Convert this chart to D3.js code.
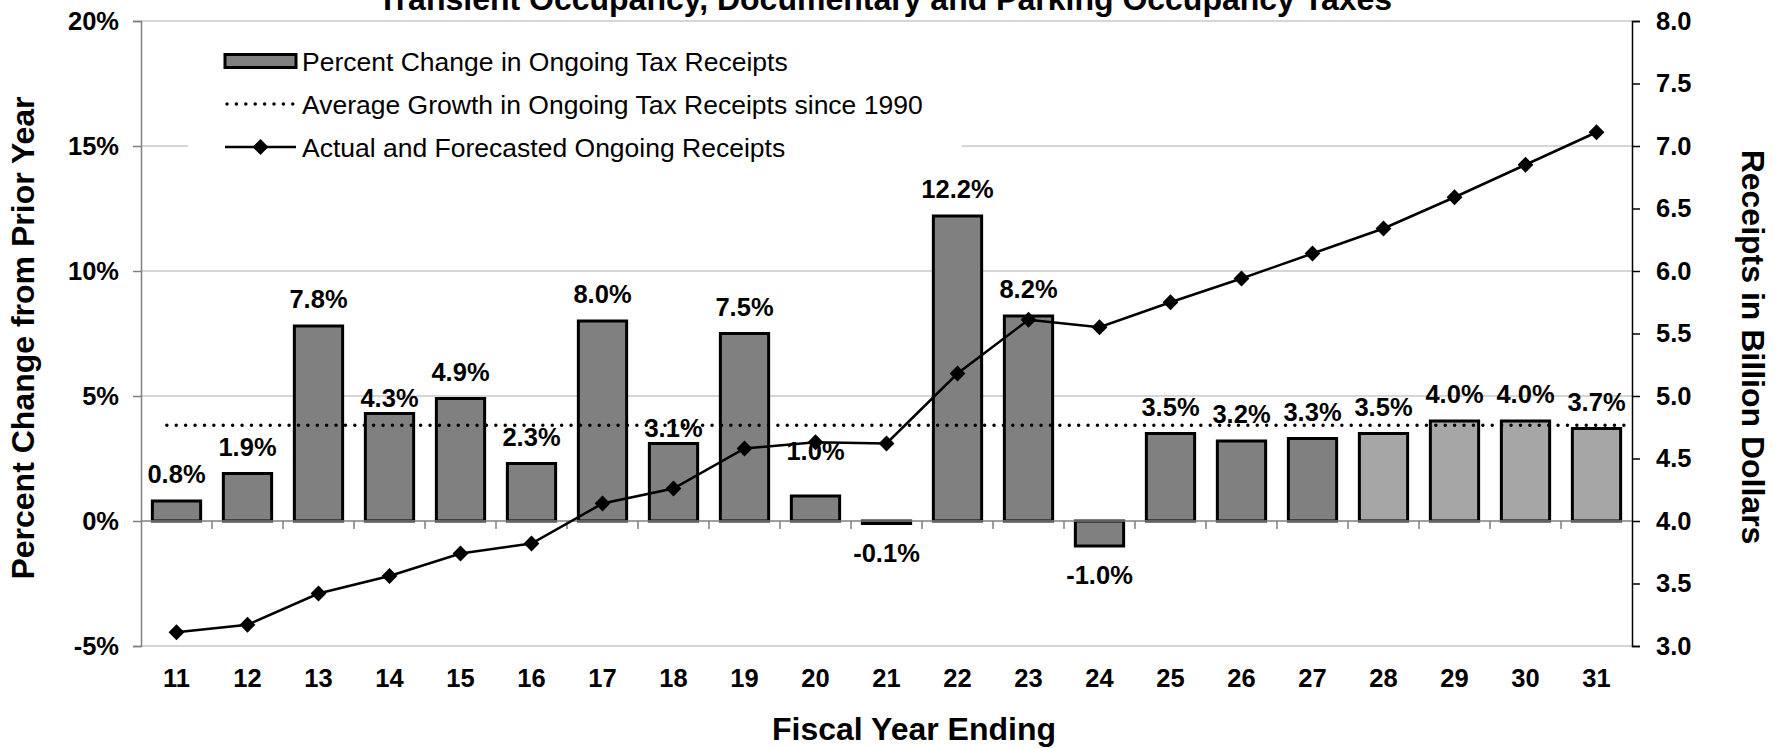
<!DOCTYPE html>
<html>
<head>
<meta charset="utf-8">
<script src="https://cdn.jsdelivr.net/npm/d3@7"></script>
<style>
    body { margin: 0; background: #fff; }
    svg { font-family: "Liberation Sans", Arial, sans-serif; }
</style>
</head>
<body>
<svg id="chart" width="1785" height="748"></svg>
<script>
var years = ["11", "12", "13", "14", "15", "16", "17", "18", "19", "20", "21",
    "22", "23", "24", "25", "26", "27", "28", "29", "30", "31"];
var pctChange = [0.8, 1.9, 7.8, 4.3, 4.9, 2.3, 8.0, 3.1, 7.5, 1.0, -0.1,
    12.2, 8.2, -1.0, 3.5, 3.2, 3.3, 3.5, 4.0, 4.0, 3.7];
var forecastYears = ["28", "29", "30", "31"];
var receipts = [3.11, 3.17, 3.42, 3.56, 3.74, 3.82, 4.14, 4.26, 4.58, 4.63, 4.62,
    5.18, 5.61, 5.55, 5.75, 5.94, 6.14, 6.34, 6.59, 6.85, 7.11];
var avgGrowth = 3.83;
var leftTicks = [-5, 0, 5, 10, 15, 20];
var rightTicks = [3.0, 3.5, 4.0, 4.5, 5.0, 5.5, 6.0, 6.5, 7.0, 7.5, 8.0];
var legendLabels = ["Percent Change in Ongoing Tax Receipts",
    "Average Growth in Ongoing Tax Receipts since 1990",
    "Actual and Forecasted Ongoing Receipts"];

// a few data labels sit off their default spot in the original
var labelNudge = {"14": 11, "18": 11, "20": -18};

var svg = d3.select("#chart");

var plotLeft = 141, plotRight = 1632, plotTop = 21, plotBottom = 646;

var x = d3.scaleBand()
    .domain(years)
    .range([plotLeft, plotRight])
    .paddingInner(0.32)
    .paddingOuter(0.16);

var yPct = d3.scaleLinear().domain([-5, 20]).range([plotBottom, plotTop]);
var yRec = d3.scaleLinear().domain([3, 8]).range([plotBottom, plotTop]);

var locale = d3.formatLocale({decimal: ".", thousands: ",", grouping: [3], currency: ["$", ""], minus: "-"});
var fmt = locale.format(".1f");

// gridlines
svg.append("g")
    .selectAll("line")
    .data(leftTicks.filter(function (d) { return d != 0; }))
    .enter()
    .append("line")
    .attr("x1", plotLeft).attr("x2", plotRight)
    .attr("y1", function (d) { return yPct(d); })
    .attr("y2", function (d) { return yPct(d); })
    .attr("stroke", "#c8c8c8")
    .attr("stroke-width", 1.5);

// legend box (white, hides gridline behind it)
svg.append("rect")
    .attr("x", 188).attr("y", 36)
    .attr("width", 774).attr("height", 128)
    .attr("fill", "#fff");

// bars
svg.append("g")
    .selectAll("rect")
    .data(years)
    .enter()
    .append("rect")
    .attr("x", function (d) { return x(d); })
    .attr("width", x.bandwidth())
    .attr("y", function (d, i) { return yPct(Math.max(0, pctChange[i])); })
    .attr("height", function (d, i) { return Math.abs(yPct(pctChange[i]) - yPct(0)); })
    .attr("fill", function (d) { return forecastYears.includes(d) ? "#a6a6a6" : "#808080"; })
    .attr("stroke", "#000")
    .attr("stroke-width", 3);

// left axis
var yAxisL = d3.axisLeft(yPct)
    .tickValues(leftTicks)
    .tickSize(8)
    .tickPadding(14)
    .tickFormat(function (d) { return d + "%"; });

var gL = svg.append("g")
    .attr("transform", "translate(" + plotLeft + ",0)")
    .call(yAxisL);
gL.select(".domain").attr("stroke", "#808080").attr("stroke-width", 1.5);
gL.selectAll(".tick line").attr("stroke", "#808080").attr("stroke-width", 1.5);
gL.selectAll("text")
    .attr("font-size", 25.5).attr("font-weight", "bold").attr("fill", "#000")
    .attr("font-family", "Liberation Sans, Arial, sans-serif");

// right axis
var yAxisR = d3.axisRight(yRec)
    .tickValues(rightTicks)
    .tickSize(8)
    .tickPadding(16)
    .tickFormat(d3.format(".1f"));

var gR = svg.append("g")
    .attr("transform", "translate(" + plotRight + ",0)")
    .call(yAxisR);
gR.select(".domain").attr("stroke", "#000").attr("stroke-width", 1.5);
gR.selectAll(".tick line").attr("stroke", "#000").attr("stroke-width", 1.5);
gR.selectAll("text")
    .attr("font-size", 25.5).attr("font-weight", "bold").attr("fill", "#000")
    .attr("font-family", "Liberation Sans, Arial, sans-serif");

// category axis on the 0% line
var zeroY = yPct(0);
svg.append("line")
    .attr("x1", plotLeft).attr("x2", plotRight)
    .attr("y1", zeroY).attr("y2", zeroY)
    .attr("stroke", "#808080").attr("stroke-width", 1.5);

svg.append("g")
    .selectAll("line")
    .data(years.slice(1))
    .enter()
    .append("line")
    .attr("x1", function (d) { return x(d) - x.step() * x.paddingInner() / 2; })
    .attr("x2", function (d) { return x(d) - x.step() * x.paddingInner() / 2; })
    .attr("y1", zeroY).attr("y2", zeroY + 8)
    .attr("stroke", "#808080").attr("stroke-width", 1.5);

svg.append("g")
    .selectAll("text")
    .data(years)
    .enter()
    .append("text")
    .attr("x", function (d) { return x(d) + x.bandwidth() / 2; })
    .attr("y", 687)
    .attr("text-anchor", "middle")
    .attr("font-size", 25.5).attr("font-weight", "bold")
    .text(function (d) { return d; });

// average growth dotted line
svg.append("line")
    .attr("x1", x(years[0]) + x.bandwidth() * 0.3)
    .attr("x2", plotRight - 4)
    .attr("y1", yPct(avgGrowth)).attr("y2", yPct(avgGrowth))
    .attr("stroke", "#000")
    .attr("stroke-width", 3.5)
    .attr("stroke-linecap", "round")
    .attr("stroke-dasharray", "0,9.4");

// receipts line
var line = d3.line()
    .x(function (d, i) { return x(years[i]) + x.bandwidth() / 2; })
    .y(function (d) { return yRec(d); });

svg.append("path")
    .datum(receipts)
    .attr("d", line)
    .attr("fill", "none")
    .attr("stroke", "#000")
    .attr("stroke-width", 2.5);

var diamond = d3.symbol().type(d3.symbolSquare).size(125);

svg.append("g")
    .selectAll("path")
    .data(receipts)
    .enter()
    .append("path")
    .attr("d", diamond)
    .attr("transform", function (d, i) {
        return "translate(" + (x(years[i]) + x.bandwidth() / 2) + "," + yRec(d) + ") rotate(45)";
    })
    .attr("fill", "#000");

// data labels
svg.append("g")
    .selectAll("text")
    .data(pctChange)
    .enter()
    .append("text")
    .attr("x", function (d, i) { return x(years[i]) + x.bandwidth() / 2; })
    .attr("y", function (d, i) {
        var base = d >= 0 ? yPct(d) - 18 : yPct(d) + 38;
        return base + (labelNudge[years[i]] || 0);
    })
    .attr("text-anchor", "middle")
    .attr("font-size", 25.5).attr("font-weight", "bold")
    .text(function (d) { return fmt(d) + "%"; });

// legend
var legend = svg.append("g");
var lx = 225, lw = 71, textX = 302, rowY = [61, 104, 147];

legend.append("rect")
    .attr("x", lx).attr("y", rowY[0] - 6.5)
    .attr("width", lw).attr("height", 13)
    .attr("fill", "#808080").attr("stroke", "#000").attr("stroke-width", 3);

legend.append("line")
    .attr("x1", lx + 2).attr("x2", lx + lw)
    .attr("y1", rowY[1]).attr("y2", rowY[1])
    .attr("stroke", "#000").attr("stroke-width", 3.5)
    .attr("stroke-linecap", "round").attr("stroke-dasharray", "0,9.4");

legend.append("line")
    .attr("x1", lx).attr("x2", lx + lw)
    .attr("y1", rowY[2]).attr("y2", rowY[2])
    .attr("stroke", "#000").attr("stroke-width", 2.5);

legend.append("path")
    .attr("d", diamond)
    .attr("transform", "translate(" + (lx + lw / 2) + "," + rowY[2] + ") rotate(45)")
    .attr("fill", "#000");

legend.selectAll("text.leg")
    .data(legendLabels)
    .enter()
    .append("text")
    .attr("class", "leg")
    .attr("x", textX)
    .attr("y", function (d, i) { return rowY[i] + 9.5; })
    .attr("font-size", 26.5)
    .text(function (d) { return d; });

// titles
svg.append("text")
    .attr("x", 885).attr("y", 10)
    .attr("text-anchor", "middle")
    .attr("font-size", 32).attr("font-weight", "bold")
    .text("Transient Occupancy, Documentary and Parking Occupancy Taxes");

svg.append("text")
    .attr("x", 914).attr("y", 740)
    .attr("text-anchor", "middle")
    .attr("font-size", 32).attr("font-weight", "bold")
    .text("Fiscal Year Ending");

svg.append("text")
    .attr("transform", "translate(34,338) rotate(-90)")
    .attr("text-anchor", "middle")
    .attr("font-size", 32).attr("font-weight", "bold")
    .text("Percent Change from Prior Year");

svg.append("text")
    .attr("transform", "translate(1742,347) rotate(90)")
    .attr("text-anchor", "middle")
    .attr("font-size", 32).attr("font-weight", "bold")
    .text("Receipts in Billion Dollars");
</script>
</body>
</html>
